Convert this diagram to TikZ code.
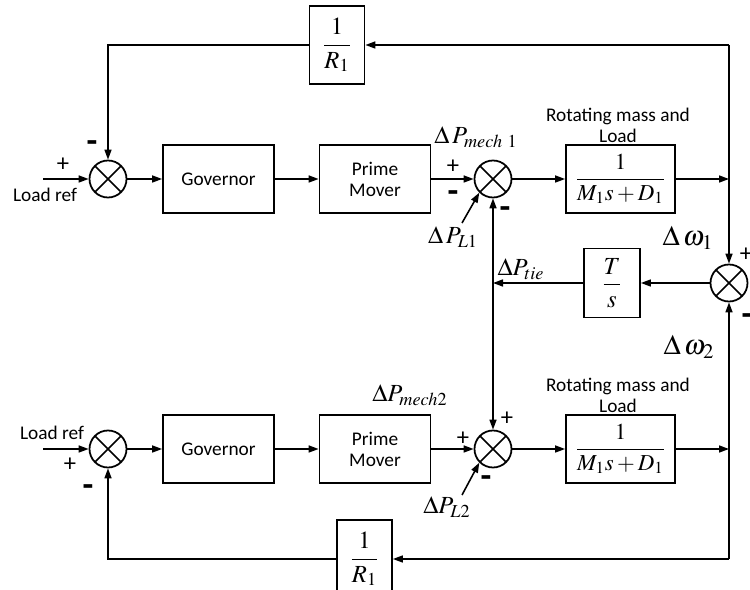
\documentclass[tikz,border=0pt]{standalone}
\usepackage{mathptmx}
\usepackage[no-math]{fontspec}
\setmainfont{Carlito}
\usetikzlibrary{arrows.meta, positioning}
\tikzset{
  blk/.style={rectangle, draw, line width=1pt, minimum width=2.22cm, minimum height=1.36cm, font=\fontsize{11}{12}\selectfont, align=center, inner sep=1pt},
  gblk/.style={rectangle, draw, line width=1pt, minimum width=1.1cm, minimum height=1.56cm, font=\fontsize{14}{16}\selectfont, inner sep=1pt},
  sumnode/.style={circle, draw, line width=1pt, minimum size=0.74cm, inner sep=0pt, fill=white,
    path picture={\draw[line width=0.9pt] (path picture bounding box.north west) -- (path picture bounding box.south east)
                  (path picture bounding box.north east) -- (path picture bounding box.south west);}},
  sgn/.style={font=\fontsize{14}{14}\selectfont},
  msgn/.style={font=\fontsize{20}{20}\bfseries, inner sep=0pt},
  lbl/.style={font=\fontsize{11}{12}\selectfont, align=center},
  mlbl/.style={font=\fontsize{14}{16}\selectfont},
}

\begin{document}
\begin{tikzpicture}[>={Stealth[length=2mm, width=1.4mm, inset=0pt]}, line width=0.9pt, font=\fontsize{11}{12}\selectfont]
  \useasboundingbox (0,0) rectangle (15,11.8);
  % ── area 1 (top row) ─────────────────────────────────────────────
  \node[sumnode] (S1) at (2.16, 8.22) {};
  \node[blk] (G1) at (4.37, 8.22) {Governor};
  \node[blk] (PM1) at (7.50, 8.22) {Prime\\Mover};
  \node[sumnode] (S2) at (9.86, 8.22) {};
  \node[blk, minimum width=2.18cm, font=\fontsize{13}{15}\selectfont] (RM1) at (12.41, 8.22) {$\displaystyle\frac{1}{M_1 s + D_1}$};
  \node[gblk] (R1) at (6.74, 10.90) {$\displaystyle\frac{1}{R_1}$};
  % ── tie line ─────────────────────────────────────────────────────
  \node[sumnode] (S3) at (14.58, 6.14) {};
  \node[gblk, minimum width=1.12cm, minimum height=1.38cm] (TS) at (12.24, 6.14) {$\displaystyle\frac{T}{s}$};
  % ── area 2 (bottom row) ──────────────────────────────────────────
  \node[sumnode] (S4) at (2.16, 2.82) {};
  \node[blk] (G2) at (4.37, 2.82) {Governor};
  \node[blk] (PM2) at (7.50, 2.82) {Prime\\Mover};
  \node[sumnode] (S5) at (9.86, 2.82) {};
  \node[blk, minimum width=2.18cm, font=\fontsize{13}{15}\selectfont] (RM2) at (12.41, 2.82) {$\displaystyle\frac{1}{M_1 s + D_1}$};
  \node[gblk] (R2) at (7.29, 0.62) {$\displaystyle\frac{1}{R_1}$};
  % ── helper points ────────────────────────────────────────────────
  \coordinate (in1) at (0.86, 8.22);
  \coordinate (in2) at (0.86, 2.82);
  \coordinate (TR) at (14.58, 10.90);
  \coordinate (BR) at (14.58, 0.62);
  \coordinate (W1) at (RM1.east -| S3);
  \coordinate (W2) at (RM2.east -| S3);
  \coordinate (TJ) at (TS.west -| S2);
  \coordinate (PL1) at (9.24, 7.34);
  \coordinate (PL2) at (9.24, 1.90);
  % ── forward paths ────────────────────────────────────────────────
  \draw[->] (in1) -- (S1.west);
  \draw[->] (S1) -- (G1);
  \draw[->] (G1) -- (PM1);
  \draw[->] (PM1) -- (S2.west);
  \draw[->] (S2) -- (RM1);
  \draw[->] (RM1.east) -- (W1);
  \draw[->] (in2) -- (S4.west);
  \draw[->] (S4) -- (G2);
  \draw[->] (G2) -- (PM2);
  \draw[->] (PM2) -- (S5.west);
  \draw[->] (S5) -- (RM2);
  \draw[->] (RM2.east) -- (W2);
  % ── droop feedback ───────────────────────────────────────────────
  \draw[->] (TR) -- (S3.north);
  \draw[->] (TR) -- (R1.east);
  \draw[->] (R1.west) -| (S1.north);
  \draw[->] (BR) -- (S3.south);
  \draw[->] (BR) -- (R2.east);
  \draw[->] (R2.west) -| (S4.south);
  % ── tie power ────────────────────────────────────────────────────
  \draw[->] (S3.west) -- (TS.east);
  \draw[->] (TS.west) -- (TJ);
  \draw[->] (TJ) -- (S2.south);
  \draw[->] (TJ) -- (S5.north);
  \draw[->] (PL1) -- (S2.225);
  \draw[->] (PL2) -- (S5.225);
  % ── labels ───────────────────────────────────────────────────────
  \node[sgn] at (1.26, 8.50) {+};
  \node[msgn] at (1.84, 8.86) {-};
  \node[lbl] at (0.90, 7.90) {Load ref};
  \node[mlbl] at (9.52, 9.06) {$\Delta\,P_{mech\ 1}$};
  \node[sgn] at (9.06, 8.46) {+};
  \node[msgn] at (9.06, 7.86) {-};
  \node[msgn] at (10.10, 7.54) {-};
  \node[mlbl] at (9.06, 7.06) {$\Delta\,P_{L1}$};
  \node[lbl] at (12.36, 9.30) {Rotating mass and\\Load};
  \node[font=\fontsize{16}{18}\selectfont] at (13.76, 7.04) {$\Delta\,\omega_1$};
  \node[sgn] at (14.92, 6.70) {+};
  \node[msgn] at (14.94, 5.40) {-};
  \node[font=\fontsize{16}{18}\selectfont] at (13.78, 4.86) {$\Delta\,\omega_2$};
  \node[mlbl] at (10.42, 6.42) {$\Delta P_{tie}$};
  \node[mlbl] at (8.20, 3.90) {$\Delta P_{mech2}$};
  \node[sgn] at (9.26, 3.02) {+};
  \node[sgn] at (10.14, 3.42) {+};
  \node[msgn] at (9.72, 2.16) {-};
  \node[mlbl] at (8.94, 1.66) {$\Delta P_{L2}$};
  \node[lbl] at (12.36, 3.90) {Rotating mass and\\Load};
  \node[lbl] at (1.04, 3.14) {Load ref};
  \node[sgn] at (1.40, 2.50) {+};
  \node[msgn] at (1.76, 1.98) {-};
\end{tikzpicture}
\end{document}
